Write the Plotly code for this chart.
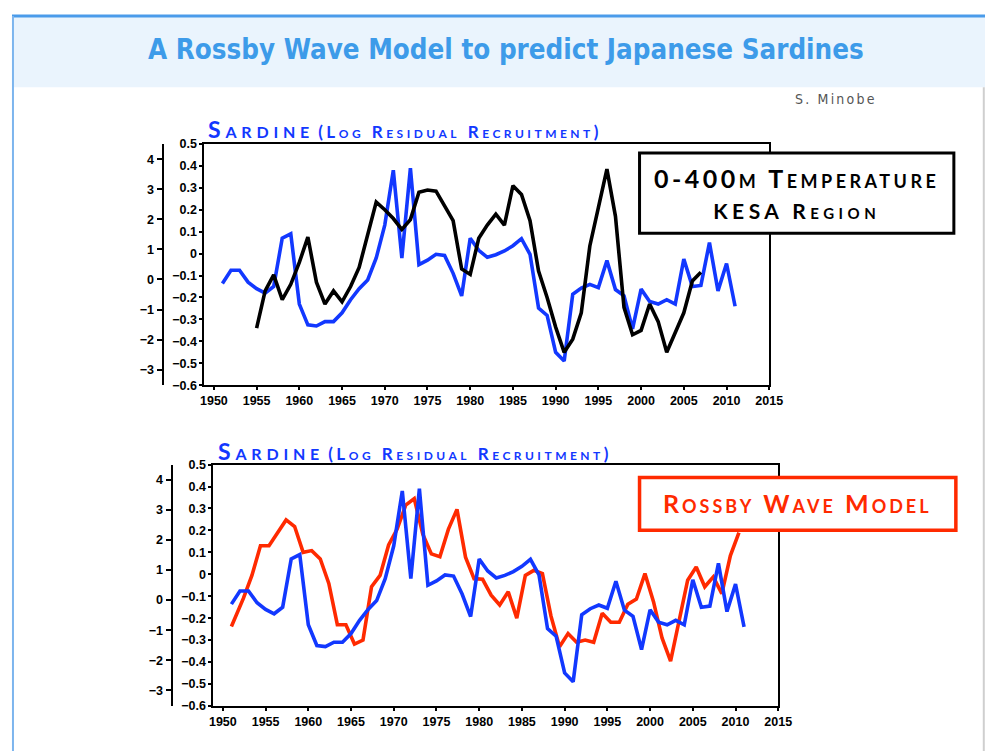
import plotly.graph_objects as go

# ---------------- data ----------------
years = list(range(1951, 2012))
sardine = [-0.136, -0.076, -0.076, -0.13, -0.16, -0.18, -0.15, 0.07, 0.09, -0.23,
           -0.325, -0.33, -0.31, -0.31, -0.27, -0.21, -0.16, -0.12, -0.02, 0.13,
           0.38, -0.02, 0.39, -0.05, -0.03, -0.003, -0.008, -0.09, -0.193, 0.07,
           0.015, -0.017, -0.005, 0.012, 0.036, 0.068, -0.003, -0.248, -0.282, -0.45,
           -0.49, -0.185, -0.157, -0.14, -0.155, -0.032, -0.164, -0.192, -0.343, -0.162,
           -0.218, -0.23, -0.21, -0.23, -0.025, -0.15, -0.145, 0.05, -0.17, -0.045, -0.24]

temp_years = list(range(1955, 2008))
temp_kesa = [-0.34, -0.17, -0.097, -0.21, -0.14, -0.04, 0.075, -0.13, -0.23, -0.17,
             -0.22, -0.15, -0.063, 0.08, 0.235, 0.2, 0.16, 0.11, 0.155, 0.28,
             0.29, 0.285, 0.22, 0.15, -0.07, -0.095, 0.07, 0.13, 0.18, 0.13,
             0.31, 0.27, 0.15, -0.08, -0.2, -0.335, -0.45, -0.39, -0.27, 0.035,
             0.21, 0.385, 0.17, -0.245, -0.37, -0.35, -0.23, -0.31, -0.45, -0.36,
             -0.27, -0.125, -0.085]

rossby_x = [1951.0] + [y + 0.4 for y in range(1952, 2011)]
rossby = [-0.238, -0.11, -0.005, 0.13, 0.13, 0.19, 0.248, 0.218, 0.10, 0.108,
          0.07, -0.042, -0.23, -0.23, -0.318, -0.30, -0.057, -0.005, 0.134, 0.206,
          0.315, 0.345, 0.183, 0.093, 0.08, 0.206, 0.296, 0.078, -0.02, -0.023,
          -0.095, -0.14, -0.08, -0.20, -0.005, 0.018, 0.003, -0.19, -0.33, -0.27,
          -0.31, -0.30, -0.31, -0.178, -0.219, -0.219, -0.137, -0.113, 0.003, -0.125,
          -0.29, -0.396, -0.215, -0.027, 0.033, -0.057, -0.012, -0.088, 0.085, 0.19]

x_ticks = list(range(1950, 2016, 5))
y_ticks = [0.5, 0.4, 0.3, 0.2, 0.1, 0, -0.1, -0.2, -0.3, -0.4, -0.5, -0.6]
y_ticktext = ["0.5", "0.4", "0.3", "0.2", "0.1", "0", "\u22120.1", "\u22120.2", "\u22120.3",
              "\u22120.4", "\u22120.5", "\u22120.6"]
y2_ticks = [4, 3, 2, 1, 0, -1, -2, -3]

# ---------------- layout helpers ----------------
W, H = 993, 751
# the page shows the figure with a small inset; map intended page pixels to figure pixels
OX, OY, SX, SY = 12.1, 12.1, 0.984, 0.9885

def fx(p):
    return ((p - OX) / SX) / W

def fy(p):
    return 1 - ((p - OY) / SY) / H

BLUE = "#1238FF"
RED = "#FF2A00"
TICKFONT = dict(family="Liberation Sans, Arial, sans-serif", size=12.5, color="black", weight="bold")

fig = go.Figure()
# top panel
fig.add_trace(go.Scatter(x=years, y=sardine, mode="lines", line=dict(color=BLUE, width=3.6),
                         xaxis="x", yaxis="y", showlegend=False))
fig.add_trace(go.Scatter(x=temp_years, y=temp_kesa, mode="lines", line=dict(color="black", width=3.6),
                         xaxis="x", yaxis="y", showlegend=False))
fig.add_trace(go.Scatter(x=[None], y=[None], xaxis="x", yaxis="y3", showlegend=False))
# bottom panel
fig.add_trace(go.Scatter(x=rossby_x, y=rossby, mode="lines", line=dict(color=RED, width=3.6),
                         xaxis="x2", yaxis="y2", showlegend=False))
fig.add_trace(go.Scatter(x=years, y=sardine, mode="lines", line=dict(color=BLUE, width=3.6),
                         xaxis="x2", yaxis="y2", showlegend=False))
fig.add_trace(go.Scatter(x=[None], y=[None], xaxis="x2", yaxis="y4", showlegend=False))


def xaxis_cfg(x0, x1, anchor):
    return dict(domain=[fx(x0), fx(x1)], range=[1948.9, 2015], anchor=anchor,
                tickvals=x_ticks, ticks="outside", ticklen=3, tickwidth=1.5, tickcolor="black",
                showline=True, linecolor="black", linewidth=2, mirror=True,
                showgrid=False, zeroline=False, tickfont=TICKFONT)


def yaxis_cfg(y0, y1, anchor):
    return dict(domain=[fy(y1), fy(y0)], range=[-0.6, 0.5], anchor=anchor,
                tickvals=y_ticks, ticktext=y_ticktext, ticks="outside", ticklen=3,
                tickwidth=1.5, tickcolor="black",
                showline=True, linecolor="black", linewidth=2, mirror=True,
                showgrid=False, zeroline=False, tickfont=TICKFONT)


def ysec_cfg(overlay, pos):
    return dict(overlaying=overlay, anchor="free", position=fx(pos), side="left",
                range=[-3.52, 4.51], tickvals=y2_ticks,
                ticktext=[str(v).replace("-", "\u2212") for v in y2_ticks],
                ticks="outside", ticklen=5, tickwidth=1.5, tickcolor="black",
                showline=True, linecolor="black", linewidth=2,
                showgrid=False, zeroline=False, tickfont=TICKFONT)


shapes = [
    dict(type="rect", xref="paper", yref="paper", x0=0, x1=1, y0=fy(85), y1=fy(12),
         fillcolor="#EAF4FD", line=dict(width=0), layer="below"),
    dict(type="line", xref="paper", yref="paper", x0=0, x1=1, y0=fy(13), y1=fy(13),
         line=dict(color="#4A9BEA", width=3)),
    dict(type="line", xref="paper", yref="paper", x0=0.001, x1=0.001, y0=fy(13), y1=0,
         line=dict(color="#7DB5EE", width=2)),
    dict(type="line", xref="paper", yref="paper", x0=fx(986), x1=fx(986), y0=fy(85), y1=0,
         line=dict(color="#CFCFCF", width=2)),
    dict(type="rect", xref="paper", yref="paper", x0=fx(641), x1=fx(956), y0=fy(232), y1=fy(151),
         fillcolor="white", line=dict(color="black", width=3), layer="above"),
    dict(type="rect", xref="paper", yref="paper", x0=fx(641), x1=fx(958), y0=fy(531), y1=fy(478),
         fillcolor="white", line=dict(color=RED, width=3.5), layer="above"),
]

CAPS = "Lato, Open Sans, sans-serif"
chart_title = ("<span style='font-size:23px;letter-spacing:4.8px'>Sardine</span> "
               "<span style='font-size:17px;letter-spacing:3.5px'>(Log Residual Recruitment)</span>")
annotations = [
    dict(xref="paper", yref="paper", x=fx(507), y=fy(46), xanchor="center", yanchor="middle",
         text="A Rossby Wave Model to predict Japanese Sardines", showarrow=False,
         font=dict(family="DejaVu Sans Condensed, Liberation Sans Narrow, sans-serif", size=27.5,
                   color="#3D9BE9", weight="bold")),
    dict(xref="paper", yref="paper", x=fx(838), y=fy(97), xanchor="center", yanchor="middle",
         text="<span style='letter-spacing:2.2px'>S. Minobe</span>", showarrow=False,
         font=dict(family="DejaVu Sans Condensed, sans-serif", size=14, color="#555555")),
    dict(xref="paper", yref="paper", x=fx(207), y=fy(127), xanchor="left", yanchor="middle",
         text=chart_title, showarrow=False,
         font=dict(family=CAPS, size=17, color=BLUE, variant="small-caps", weight="bold")),
    dict(xref="paper", yref="paper", x=fx(217), y=fy(451), xanchor="left", yanchor="middle",
         text=chart_title, showarrow=False,
         font=dict(family=CAPS, size=17, color=BLUE, variant="small-caps", weight="bold")),
    dict(xref="paper", yref="paper", x=fx(798.5), y=fy(191), xanchor="center", yanchor="middle",
         text=("<span style='font-size:25px;letter-spacing:3.5px'>0-400m Temperature</span><br>"
               "<span style='font-size:21px;letter-spacing:4.5px'>KESA Region</span>"),
         showarrow=False,
         font=dict(family=CAPS, size=24, color="black", variant="small-caps", weight="bold")),
    dict(xref="paper", yref="paper", x=fx(799.5), y=fy(504), xanchor="center", yanchor="middle",
         text="<span style='letter-spacing:3px'>Rossby Wave Model</span>", showarrow=False,
         font=dict(family=CAPS, size=25, color=RED, variant="small-caps", weight="bold")),
]

fig.update_layout(
    width=W, height=H, margin=dict(l=0, r=0, t=0, b=0),
    paper_bgcolor="white", plot_bgcolor="white",
    xaxis=xaxis_cfg(205, 771, "y"),
    yaxis=yaxis_cfg(142, 385, "x"),
    xaxis2=xaxis_cfg(214, 780, "y2"),
    yaxis2=yaxis_cfg(465, 708, "x2"),
    yaxis3=ysec_cfg("y", 163),
    yaxis4=ysec_cfg("y2", 172),
    shapes=shapes, annotations=annotations,
)

fig.write_html("out.html")
